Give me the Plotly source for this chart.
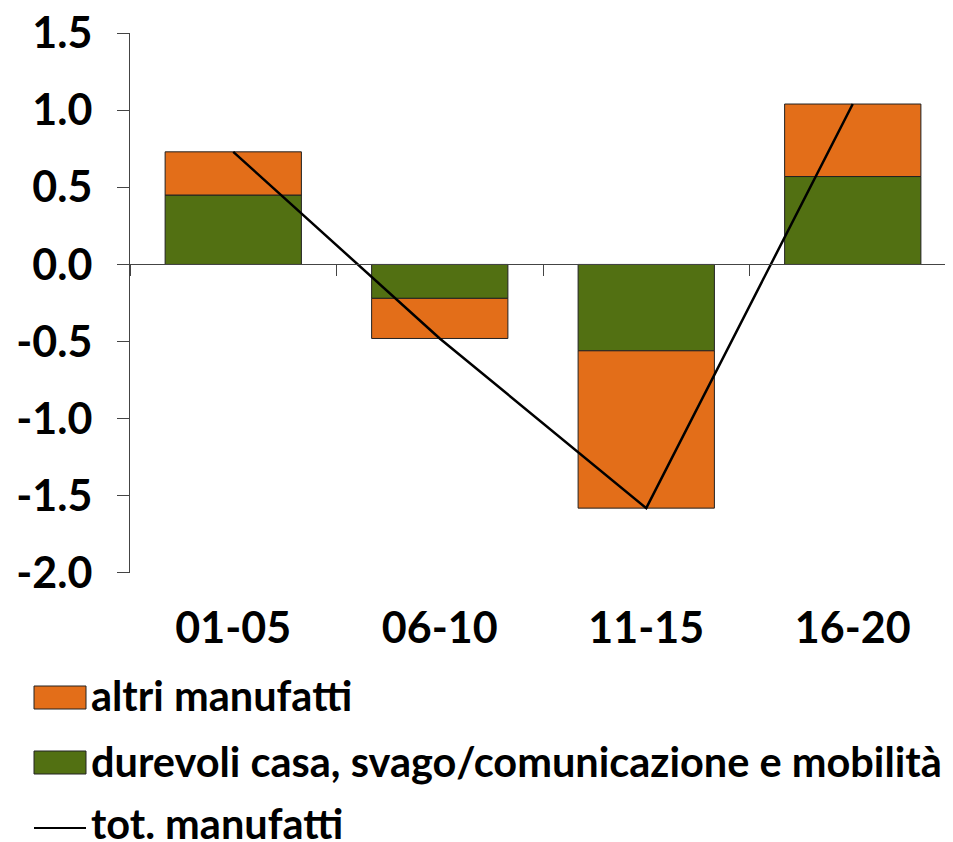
import plotly.graph_objects as go

categories = ["01-05", "06-10", "11-15", "16-20"]
durevoli = [0.45, -0.22, -0.56, 0.57]
altri = [0.28, -0.26, -1.02, 0.47]
totale = [0.73, -0.48, -1.58, 1.04]
y_ticks = [-2.0, -1.5, -1.0, -0.5, 0.0, 0.5, 1.0, 1.5]
y_tick_labels = ["-2.0", "-1.5", "-1.0", "-0.5", "0.0", "0.5", "1.0", "1.5"]
legend_names = ["altri manufatti",
                "durevoli casa, svago/comunicazione e mobilità",
                "tot. manufatti"]

ORANGE = "#E36E19"
GREEN = "#527012"
FONT = "Lato"
FS = 43
LFS = 41.5

ML, MR, MT, MB = 122, 5, 25, 277
W, H = 953, 842

fig = go.Figure()
fig.add_trace(go.Bar(x=categories, y=durevoli, name=legend_names[1],
                     marker=dict(color=GREEN, line=dict(color="#222", width=1)), showlegend=False))
fig.add_trace(go.Bar(x=categories, y=altri, name=legend_names[0],
                     marker=dict(color=ORANGE, line=dict(color="#222", width=1)), showlegend=False))
fig.add_trace(go.Scatter(x=categories, y=totale, name=legend_names[2], mode="lines",
                         line=dict(color="black", width=2.5), showlegend=False))
# helper trace so the zero-line axis is drawn
fig.add_trace(go.Scatter(x=categories, y=[None] * 4, xaxis="x2", showlegend=False,
                         hoverinfo="skip"))

Y_MIN, Y_MAX = -2.0, 1.5
fig.update_layout(
    width=W, height=H,
    margin=dict(l=ML, r=MR, t=MT, b=MB, autoexpand=False),
    barmode="relative", bargap=0.34,
    plot_bgcolor="white", paper_bgcolor="white",
    font=dict(family=FONT, size=FS, color="black"),
    showlegend=False,
    xaxis=dict(type="category", range=[-0.5, 3.5], showline=False, ticks="",
               showgrid=False, tickfont=dict(size=FS, weight="bold"),
               ticklabelstandoff=26, automargin=False),
    xaxis2=dict(type="category", overlaying="x", anchor="free",
                position=-Y_MIN / (Y_MAX - Y_MIN),
                range=[-0.5, 3.5], showline=True, linecolor="#444", linewidth=1,
                ticks="outside", tickson="boundaries", ticklen=11, tickcolor="#444",
                showticklabels=False, showgrid=False, side="bottom", automargin=False),
    yaxis=dict(range=[Y_MIN - 0.0005, Y_MAX + 0.0005], tickvals=y_ticks, ticktext=y_tick_labels,
               showline=True, linecolor="#444", linewidth=1, ticks="outside",
               ticklen=12, tickcolor="#444", showgrid=False, zeroline=False,
               tickfont=dict(size=FS, weight="bold"), ticklabelstandoff=16,
               ticklabeloverflow="allow", automargin=False),
)

# legend drawn in paper coordinates (page pixels include an 8px body offset)
OFF = 8
PLOT_W = W - ML - MR
PLOT_H = H - MT - MB


def px_to_paper_x(px):
    return (px - OFF - ML) / PLOT_W


def px_to_paper_y(py):
    return (H - MB - (py - OFF)) / PLOT_H


swatches = [(ORANGE, 686, 709), (GREEN, 751, 774)]
for color, top, bot in swatches:
    fig.add_shape(type="rect", xref="paper", yref="paper",
                  x0=px_to_paper_x(34), x1=px_to_paper_x(86),
                  y0=px_to_paper_y(bot), y1=px_to_paper_y(top),
                  fillcolor=color, line=dict(color="#222", width=1))
fig.add_shape(type="line", xref="paper", yref="paper",
              x0=px_to_paper_x(34), x1=px_to_paper_x(86),
              y0=px_to_paper_y(828), y1=px_to_paper_y(828),
              line=dict(color="black", width=2))

for name, cy in zip(legend_names, [695, 761, 823]):
    fig.add_annotation(xref="paper", yref="paper", x=px_to_paper_x(89), y=px_to_paper_y(cy),
                       xanchor="left", yanchor="middle", text=name, showarrow=False,
                       font=dict(family=FONT, size=LFS, weight="bold", color="black"))

fig.write_html("out.html")
